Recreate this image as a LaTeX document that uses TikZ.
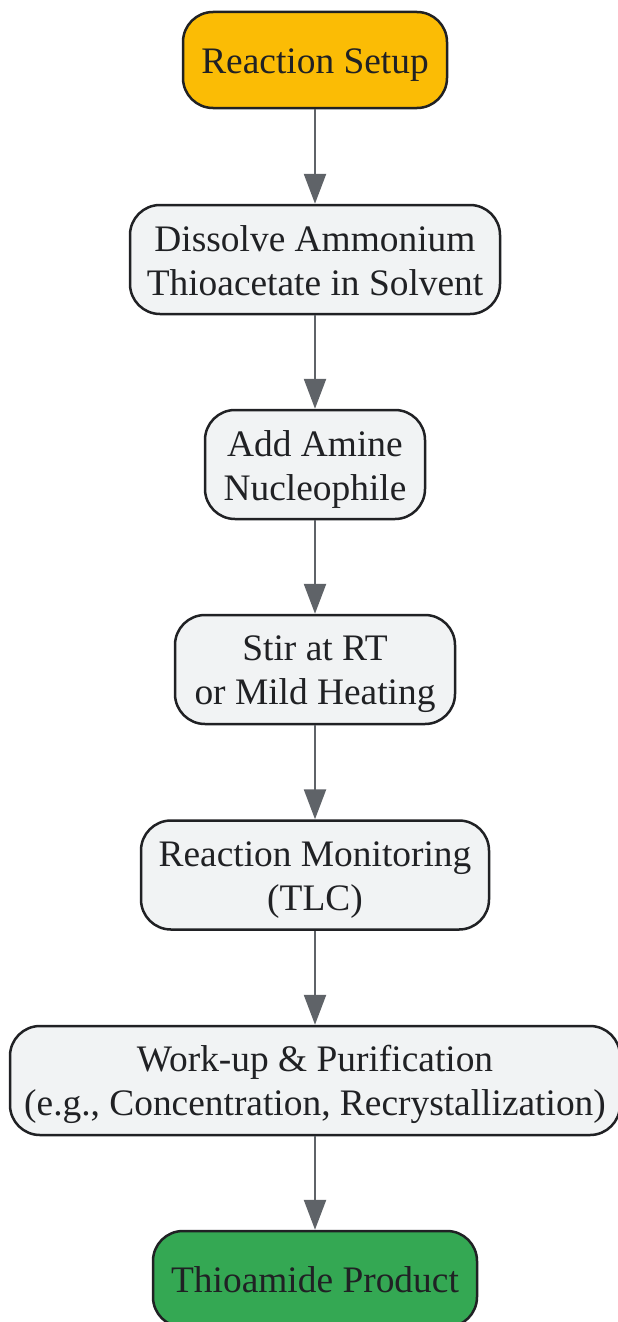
\documentclass[tikz,border=0pt]{standalone}
\usepackage{fontspec}
\setmainfont{Liberation Serif}
\usetikzlibrary{arrows.meta}
\definecolor{setupfill}{HTML}{FBBC05}
\definecolor{stepfill}{HTML}{F1F3F4}
\definecolor{productfill}{HTML}{34A853}
\definecolor{edge}{HTML}{202124}
\definecolor{arrowgray}{HTML}{5F6368}
\newcommand{\linestrut}{\rule[-8pt]{0pt}{43pt}}
\newcommand{\twolines}[2]{\linestrut#1\\#2\linestrut}

\begin{document}
\begin{tikzpicture}[x=1pt,y=-1pt,
		box/.style={draw=edge,line width=2.5pt,rounded corners=30pt,text=edge,align=center,inner sep=0pt,font=\fontsize{37.4}{44}\selectfont},
		stepbox/.style={box,fill=stepfill,minimum height=109pt},
		flow/.style={-{Triangle[length=30pt,width=22pt]},line width=2.5pt,arrowgray}]
			\useasboundingbox (0,0) rectangle (618,1322);
			\node[box,fill=setupfill,minimum width=264pt,minimum height=96pt] (setup) at (315,60) {\linestrut Reaction Setup};
			\node[stepbox,minimum width=370pt] (dissolve) at (315,259.5) {\twolines{Dissolve Ammonium}{Thioacetate in Solvent}};
			\node[stepbox,minimum width=220pt] (amine) at (315,464.5) {\twolines{Add Amine}{Nucleophile}};
			\node[stepbox,minimum width=280pt] (stir) at (315,669.5) {\twolines{Stir at RT}{or Mild Heating}};
			\node[stepbox,minimum width=348pt] (tlc) at (315,875) {\twolines{Reaction Monitoring}{(TLC)}};
			\node[stepbox,minimum width=610pt] (workup) at (315,1080.5) {\twolines{Work-up \& Purification}{(e.g., Concentration, Recrystallization)}};
			\node[box,fill=productfill,minimum width=324pt,minimum height=96pt] (product) at (315,1279) {\linestrut Thioamide Product};

			\draw[flow] (setup) -- (dissolve);
			\draw[flow] (dissolve) -- (amine);
			\draw[flow] (amine) -- (stir);
			\draw[flow] (stir) -- (tlc);
			\draw[flow] (tlc) -- (workup);
			\draw[flow] (workup) -- (product);
		\end{tikzpicture}
\end{document}
